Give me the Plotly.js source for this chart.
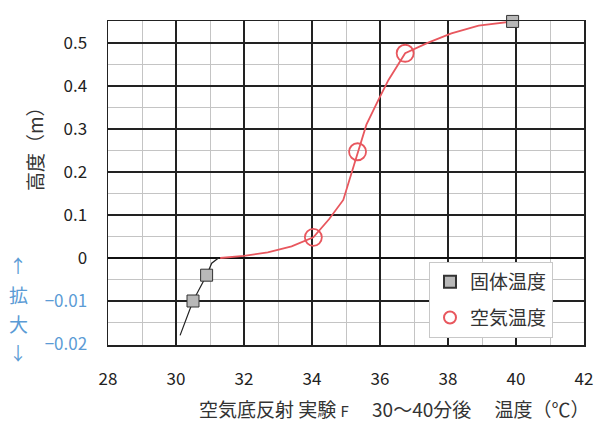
<!DOCTYPE html>
<html><head><meta charset="utf-8">
<script src="https://cdn.plot.ly/plotly-3.0.1.min.js"></script>
<style>html,body{margin:0;padding:0;background:#fff}#chart{width:600px;height:428px}</style>
</head><body><div id="chart"></div>
<script>
// Data (heights in m; negative part is shown enlarged x10)
const solidT = [30.5, 30.9, 39.9];
const solidH = [-0.010, -0.004, 0.55];
const solidCurveT = [30.12, 30.5, 30.9, 31.05, 31.25];
const solidCurveH = [-0.018, -0.010, -0.004, -0.0012, 0];
const airT = [34.04, 35.34, 36.74];
const airH = [0.048, 0.247, 0.476];
const airCurveT = [31.3, 32.0, 32.7, 33.4, 34.04, 34.5, 34.92, 35.13, 35.34, 35.6, 35.95, 36.25, 36.74, 37.4, 38.1, 38.9, 39.9];
const airCurveH = [0, 0.005, 0.013, 0.027, 0.048, 0.09, 0.135, 0.19, 0.247, 0.31, 0.367, 0.414, 0.476, 0.50, 0.522, 0.54, 0.55];
const yTickVals = [-0.02, -0.01, 0, 0.1, 0.2, 0.3, 0.4, 0.5];
const yTickText = ['−0.02', '−0.01', '0', '0.1', '0.2', '0.3', '0.4', '0.5'];
const xTickVals = [28, 30, 32, 34, 36, 38, 40, 42];

const BLUE = '#5b9bd5';
const tr = h => h < 0 ? h * 10 : h;  // enlarged scale below zero
const font = '"Noto Sans CJK JP", "Noto Sans", sans-serif';
const px = v => (v - 108) / 476;   // helper: pixel to paper x
const py = v => (345 - v) / 324;   // helper: pixel to paper y

const traces = [
  {x: solidCurveT, y: solidCurveH.map(tr), mode: 'lines', line: {color: '#222', width: 1.2}, showlegend: false, hoverinfo: 'skip'},
  {x: airCurveT, y: airCurveH.map(tr), mode: 'lines', line: {color: '#e8575e', width: 1.8}, showlegend: false, hoverinfo: 'skip'},
  {x: solidT, y: solidH.map(tr), mode: 'markers', name: '固体温度', legendgroup: 'a', cliponaxis: false,
   marker: {symbol: 'square', size: 12, color: '#b8b8b8', line: {color: '#333', width: 1}}},
  {x: airT, y: airH.map(tr), mode: 'markers', name: '空気温度', legendgroup: 'b',
   marker: {symbol: 'circle-open', size: 17, color: '#e8575e', line: {color: '#e8575e', width: 1.8}}}
];

const ann = (text, x, y, extra) => Object.assign({text, xref: 'paper', yref: 'paper', x: px(x), y: py(y),
  xanchor: 'center', yanchor: 'middle', showarrow: false}, extra);

const layout = {
  width: 600, height: 428,
  margin: {l: 108, r: 16, t: 21, b: 83},
  paper_bgcolor: '#fff', plot_bgcolor: '#fff',
  font: {family: font, size: 17, color: '#222'},
  showlegend: true,
  legend: {x: px(429), y: py(262), xanchor: 'left', yanchor: 'top', bgcolor: '#fff', bordercolor: '#c8c8c8', borderwidth: 1,
           font: {size: 19, color: '#333'}, tracegroupgap: 8, itemsizing: 'constant', itemwidth: 30},
  xaxis: {range: [28, 42], tickmode: 'array', tickvals: xTickVals, ticktext: xTickVals.map(String),
          showgrid: true, gridcolor: '#222', gridwidth: 1.2, zeroline: false,
          showline: true, linecolor: '#222', linewidth: 1.5, mirror: true,
          ticks: 'outside', ticklen: 18, tickcolor: 'rgba(0,0,0,0)',
          tickfont: {size: 17, color: '#222'},
          minor: {tickmode: 'linear', tick0: 28, dtick: 1, showgrid: true, gridcolor: '#c4c4c4', gridwidth: 1, ticks: ''}},
  yaxis: {range: [-0.2023, 0.551], tickmode: 'array', tickvals: yTickVals.map(tr),
          ticktext: yTickText.map((t, i) => yTickVals[i] < 0 ? '<span style="color:' + BLUE + '">' + t + '</span>' : t),
          showgrid: true, gridcolor: '#222', gridwidth: 1.2,
          zeroline: true, zerolinecolor: '#111', zerolinewidth: 2.2,
          showline: true, linecolor: '#222', linewidth: 1.5, mirror: true,
          ticks: 'outside', ticklen: 16, tickcolor: 'rgba(0,0,0,0)',
          tickfont: {size: 17, color: '#222'},
          minor: {tickmode: 'linear', tick0: 0, dtick: 0.05, showgrid: true, gridcolor: '#c4c4c4', gridwidth: 1, ticks: ''}},
  annotations: [
    ann('高度（m）', 34, 144, {textangle: -90, font: {size: 19, color: '#333'}}),
    ann('空気底反射 実験 <span style="font-size:15px">F</span>　 30〜40分後　 温度（℃）', 394, 408, {font: {size: 19, color: '#333'}}),
    ann('↑', 18, 265, {font: {size: 18, color: BLUE}}),
    ann('拡', 18, 294, {font: {size: 19, color: BLUE}}),
    ann('大', 18, 323, {font: {size: 19, color: BLUE}}),
    ann('↓', 18, 352, {font: {size: 18, color: BLUE}})
  ]
};

Plotly.newPlot('chart', traces, layout, {displayModeBar: false, staticPlot: true});
</script>
</body></html>
